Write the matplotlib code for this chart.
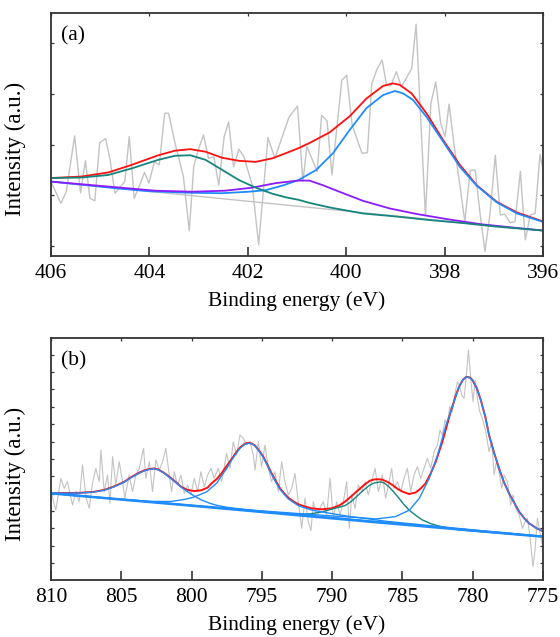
import matplotlib
matplotlib.use('Agg')
import matplotlib.pyplot as plt

plt.rcParams['font.family'] = ['Liberation Serif', 'DejaVu Serif']

# ---- panel (a): N 1s region ----
a_raw_e = [406.0, 405.80, 405.69, 405.52, 405.40, 405.30, 405.21, 405.11, 405.01, 404.89,
           404.80, 404.70, 404.50, 404.41, 404.31, 404.21, 404.10, 404.01, 403.90, 403.80,
           403.69, 403.61, 403.48, 403.31, 403.19, 403.10, 403.01, 402.90, 402.80, 402.69,
           402.59, 402.48, 402.39, 402.29, 402.18, 402.08, 401.91, 401.78, 401.59, 401.45,
           401.30, 401.16, 400.99, 400.88, 400.80, 400.59, 400.50, 400.39, 400.29, 400.09,
           399.99, 399.88, 399.68, 399.57, 399.48, 399.37, 399.27, 399.18, 399.10, 398.98,
           398.88, 398.67, 398.58, 398.39, 398.28, 398.18, 398.08, 397.99, 397.91, 397.80,
           397.69, 397.59, 397.48, 397.38, 397.28, 397.18, 397.08, 396.97, 396.87, 396.78,
           396.67, 396.57, 396.46, 396.36, 396.26, 396.16, 396.06, 395.96]
a_raw_i = [1.27, 0.84, 1.07, 2.17, 1.05, 1.68, 0.94, 0.89, 2.04, 2.12,
           1.70, 1.04, 1.27, 2.16, 0.94, 1.17, 1.45, 1.24, 1.66, 1.60,
           2.62, 2.62, 2.03, 1.37, 0.30, 1.56, 1.89, 2.19, 1.73, 1.76,
           1.20, 2.16, 2.45, 1.56, 1.91, 1.76, 1.20, 0.02, 2.14, 1.73,
           2.16, 2.55, 2.76, 1.27, 1.96, 1.47, 2.58, 2.47, 1.40, 3.27,
           3.37, 2.39, 1.83, 1.84, 3.21, 3.50, 3.67, 3.18, 3.16, 3.44,
           3.14, 3.50, 4.38, 0.60, 2.81, 3.24, 2.42, 2.16, 2.80, 1.93,
           1.20, 0.48, 1.49, 1.50, 0.64, -0.11, 0.61, 1.79, 0.61, 0.63,
           0.46, 0.48, 1.47, 0.12, 0.61, 0.64, 1.81, 1.30]

a_bg_e = [406.0, 396.0]
a_bg_i = [1.27, 0.30]

a_sum_e = [406.0, 405.38, 404.84, 404.36, 403.82, 403.48, 403.17, 402.86, 402.52, 402.18,
           401.84, 401.50, 401.23, 400.97, 400.75, 400.34, 399.93, 399.59, 399.25, 399.05,
           398.91, 398.67, 398.37, 398.03, 397.69, 397.35, 396.94, 396.53, 395.96]
a_sum_i = [1.34, 1.37, 1.45, 1.60, 1.79, 1.88, 1.91, 1.86, 1.74, 1.68,
           1.66, 1.73, 1.83, 1.93, 2.03, 2.24, 2.56, 2.91, 3.16, 3.21,
           3.18, 3.01, 2.62, 2.09, 1.60, 1.20, 0.87, 0.66, 0.47]

a_p1_e = [406.0, 404.70, 404.02, 403.20, 402.52, 401.98, 401.64, 401.30, 400.97, 400.61,
          400.27, 399.93, 399.59, 399.25, 399.01, 398.84, 398.64, 398.37, 398.03, 397.69,
          397.35, 396.94, 396.53, 395.96]
a_p1_i = [1.27, 1.14, 1.08, 1.05, 1.04, 1.07, 1.10, 1.19, 1.30, 1.50,
          1.83, 2.29, 2.72, 2.98, 3.06, 3.01, 2.88, 2.55, 2.06, 1.56,
          1.19, 0.86, 0.64, 0.46]

a_p2_e = [406.0, 404.70, 403.88, 403.14, 402.46, 401.91, 401.43, 400.97, 400.75, 400.48,
          400.14, 399.66, 399.12, 398.57, 397.96, 397.28, 396.60, 395.96]
a_p2_i = [1.27, 1.16, 1.09, 1.07, 1.09, 1.15, 1.24, 1.29, 1.29, 1.20,
          1.07, 0.89, 0.74, 0.63, 0.53, 0.43, 0.36, 0.30]

a_p3_e = [406.0, 405.38, 404.84, 404.36, 403.82, 403.48, 403.17, 402.86, 402.52, 402.18,
          401.84, 401.50, 401.23, 400.97, 400.75, 400.34, 399.66, 398.98, 398.30, 397.62,
          396.94, 395.96]
a_p3_i = [1.34, 1.35, 1.40, 1.53, 1.70, 1.78, 1.79, 1.70, 1.50, 1.30,
          1.15, 1.03, 0.96, 0.91, 0.85, 0.76, 0.64, 0.58, 0.51, 0.45,
          0.38, 0.30]

# ---- panel (b): Co 2p region ----
b_raw_e = [810.0, 809.66, 809.30, 809.06, 808.83, 808.47, 808.23, 808.00, 807.76, 807.52,
           807.28, 807.05, 806.81, 806.57, 806.45, 806.22, 805.98, 805.81, 805.62, 805.39,
           805.15, 804.91, 804.75, 804.44, 804.20, 803.96, 803.72, 803.42, 803.25, 803.01,
           802.78, 802.54, 802.30, 802.06, 801.83, 801.59, 801.42, 801.23, 801.00, 800.76,
           800.52, 800.28, 800.05, 799.81, 799.57, 799.34, 799.10, 798.86, 798.62, 798.39,
           798.10, 797.86, 797.51, 797.27, 797.03, 796.80, 796.56, 796.32, 796.09, 795.85,
           795.61, 795.49, 795.25, 795.02, 794.78, 794.54, 794.31, 794.07, 793.83, 793.59,
           793.36, 793.12, 792.88, 792.65, 792.41, 792.17, 791.93, 791.70, 791.51, 791.34,
           791.10, 790.87, 790.63, 790.39, 790.15, 789.92, 789.68, 789.44, 789.20, 788.97,
           788.78, 788.61, 788.37, 788.14, 787.90, 787.66, 787.43, 787.19, 786.95, 786.71,
           786.43, 786.19, 785.95, 785.77, 785.60, 785.36, 785.12, 784.89, 784.65, 784.41,
           784.18, 783.94, 783.70, 783.46, 783.23, 782.99, 782.75, 782.51, 782.33, 782.16,
           781.97, 781.80, 781.64, 781.45, 781.26, 781.09, 780.97, 780.78, 780.62, 780.45,
           780.31, 780.14, 779.98, 779.83, 779.67, 779.50, 779.31, 779.07, 778.84, 778.65,
           778.48, 778.32, 778.13, 777.94, 777.77, 777.53, 777.30, 777.13, 776.94, 776.70,
           776.46, 776.28, 776.11, 775.94, 775.80, 775.71, 775.56, 775.40, 775.23, 775.04]
b_raw_i = [4.12, 3.06, 4.88, 4.31, 4.69, 3.35, 4.12, 3.54, 5.65, 3.83,
           3.16, 4.60, 5.46, 4.69, 6.51, 4.12, 5.07, 3.45, 6.13, 4.50,
           5.84, 4.69, 3.74, 5.07, 4.12, 5.07, 5.46, 6.61, 4.88, 5.84,
           4.12, 5.94, 5.36, 5.84, 6.61, 5.07, 4.12, 5.26, 4.50, 5.07,
           4.02, 4.50, 3.93, 4.88, 4.12, 5.26, 4.40, 5.07, 5.46, 4.88,
           5.46, 4.69, 6.32, 5.46, 6.99, 6.22, 7.37, 7.18, 6.80, 6.99,
           6.22, 5.36, 6.99, 5.55, 6.80, 5.46, 4.69, 5.26, 4.12, 5.84,
           4.69, 3.93, 4.31, 5.17, 3.54, 2.01, 3.74, 2.39, 1.87, 3.54,
           2.59, 3.16, 3.54, 2.78, 4.88, 2.59, 3.54, 2.78, 3.54, 4.69,
           2.01, 3.93, 3.16, 4.50, 4.12, 4.69, 3.93, 4.69, 5.46, 4.12,
           5.07, 3.74, 4.69, 5.46, 4.31, 4.69, 4.12, 4.88, 5.46, 4.12,
           5.07, 5.55, 4.88, 5.46, 6.03, 5.46, 6.41, 6.80, 7.66, 7.37,
           8.24, 7.95, 9.00, 8.71, 9.77, 10.44, 10.25, 9.67, 9.48, 10.82,
           12.26, 10.63, 9.29, 10.53, 9.48, 8.71, 8.33, 7.56, 6.41, 6.99,
           5.07, 5.84, 5.26, 4.31, 5.07, 4.69, 3.35, 3.93, 3.16, 2.78,
           2.01, 2.39, 2.59, 1.63, 0.48, -0.19, 0.86, 2.59, 1.82, 1.05]

b_bg_e = [810.0, 798.6, 786.9, 775.0]
b_bg_i = [4.02, 3.21, 2.36, 1.53]

b_sum_e = [810.0, 808.0, 807.0, 806.2, 805.5, 804.8, 804.3, 803.8, 803.4, 803.0,
           802.7, 802.4, 802.0, 801.6, 801.2, 800.75, 800.3, 799.8, 799.3, 798.86,
           798.58, 798.2, 797.87, 797.5, 797.15, 796.8, 796.56, 796.2, 795.96, 795.7,
           795.49, 795.2, 794.9, 794.6, 794.31, 794.0, 793.71, 793.4, 793.12, 792.8,
           792.41, 791.9, 791.46, 790.75, 790.04, 789.5, 789.09, 788.6, 788.14, 787.7,
           787.31, 787.0, 786.71, 786.4, 786.0, 785.72, 785.3, 785.0, 784.53, 784.06,
           783.7, 783.35, 783.0, 782.63, 782.16, 781.57, 781.2, 780.97, 780.7, 780.45,
           780.2, 780.02, 779.7, 779.43, 779.1, 778.84, 778.5, 778.13, 777.8, 777.42,
           777.0, 776.7, 776.3, 775.99, 775.5, 775.04]
b_sum_i = [4.03, 4.05, 4.10, 4.22, 4.42, 4.68, 4.95, 5.18, 5.33, 5.42,
           5.45, 5.40, 5.22, 4.98, 4.72, 4.40, 4.22, 4.15, 4.20, 4.35,
           4.60, 4.85, 5.17, 5.60, 5.99, 6.40, 6.65, 6.88, 6.93, 6.88,
           6.76, 6.48, 6.13, 5.65, 5.17, 4.72, 4.31, 4.00, 3.77, 3.58,
           3.39, 3.25, 3.16, 3.10, 3.16, 3.32, 3.54, 3.88, 4.21, 4.52,
           4.75, 4.82, 4.83, 4.80, 4.65, 4.50, 4.25, 4.12, 3.98, 4.07,
           4.30, 4.60, 5.15, 5.84, 6.99, 8.71, 9.65, 10.15, 10.55, 10.72,
           10.68, 10.53, 10.05, 9.39, 8.40, 7.37, 6.40, 5.46, 4.70, 4.02,
           3.40, 2.97, 2.55, 2.30, 2.03, 1.86]

# satellite near 803 eV
b_p1_e = [810.0, 808.0, 807.0, 806.2, 805.5, 804.8, 804.3, 803.8, 803.4, 803.0,
          802.7, 802.4, 802.0, 801.6, 801.2, 800.75, 800.3, 799.8, 799.3, 798.7,
          798.2, 797.5, 796.5, 795.5, 793.0, 790.0, 785.0, 780.0, 775.0]
b_p1_i = [4.02, 4.04, 4.09, 4.20, 4.40, 4.66, 4.92, 5.15, 5.30, 5.40,
          5.43, 5.38, 5.20, 4.95, 4.69, 4.38, 4.12, 3.86, 3.64, 3.45,
          3.33, 3.22, 3.12, 3.03, 2.85, 2.63, 2.27, 1.90, 1.54]

# Co 2p1/2 near 796 eV
b_p2_e = [810.0, 806.0, 803.0, 801.5, 800.5, 799.9, 799.3, 798.9, 798.6, 798.2,
          797.9, 797.5, 797.15, 796.8, 796.56, 796.2, 795.96, 795.7, 795.49, 795.2,
          794.9, 794.6, 794.31, 794.0, 793.71, 793.4, 793.12, 792.41, 791.46, 790.5,
          789.0, 786.0, 780.0, 775.0]
b_p2_i = [4.02, 3.74, 3.56, 3.55, 3.67, 3.79, 3.98, 4.12, 4.34, 4.62,
          5.00, 5.45, 5.93, 6.35, 6.61, 6.85, 6.90, 6.86, 6.74, 6.45,
          6.09, 5.60, 5.11, 4.65, 4.25, 3.95, 3.70, 3.31, 3.06, 2.92,
          2.72, 2.40, 1.92, 1.55]

# satellite near 786.7 eV
b_p3_e = [810.0, 795.0, 792.4, 791.5, 790.75, 790.0, 789.09, 788.6, 788.14, 787.7,
          787.31, 787.0, 786.71, 786.55, 786.3, 785.96, 785.6, 785.25, 784.9, 784.53,
          784.0, 783.58, 783.0, 782.4, 781.5, 780.97, 775.0]
b_p3_i = [4.02, 2.96, 2.80, 2.85, 2.95, 3.12, 3.31, 3.58, 3.93, 4.25,
          4.50, 4.62, 4.66, 4.68, 4.62, 4.40, 4.08, 3.74, 3.38, 3.06,
          2.72, 2.49, 2.28, 2.14, 2.00, 1.92, 1.53]

# Co 2p3/2 near 780 eV
b_p4_e = [810.0, 800.0, 795.0, 790.0, 788.0, 786.9, 785.5, 784.5, 783.8, 783.1,
          782.5, 781.9, 781.57, 780.97, 780.7, 780.45, 780.2, 780.02, 779.7, 779.43,
          779.1, 778.84, 778.5, 778.13, 777.8, 777.42, 777.0, 776.7, 776.3, 775.99,
          775.5, 775.04]
b_p4_i = [4.03, 3.34, 3.01, 2.72, 2.62, 2.55, 2.68, 3.06, 3.74, 4.88,
          6.22, 7.95, 8.71, 10.15, 10.55, 10.72, 10.65, 10.53, 10.05, 9.39,
          8.40, 7.37, 6.40, 5.46, 4.70, 4.02, 3.40, 2.97, 2.55, 2.30,
          2.03, 1.86]

a_ticks = [406, 404, 402, 400, 398, 396]
b_ticks = [810, 805, 800, 795, 790, 785, 780, 775]

c_raw = '#c3c3c3'
c_red = '#ff1010'
c_blue = '#1e8cff'
c_purple = '#8c1cff'
c_teal = '#16857c'
c_spine = '#333333'


def style_axes(ax, ticks, xlim, ylim, yticks, label):
    ax.set_xlim(*xlim)
    ax.set_ylim(*ylim)
    ax.set_xticks(ticks)
    ax.set_xticklabels([str(t) for t in ticks])
    ax.set_yticks(yticks)
    ax.set_yticklabels([])
    ax.tick_params(axis='x', direction='in', length=6.5, width=1.2, color=c_spine,
                   labelsize=15.5, pad=6, top=False)
    ax.tick_params(axis='y', direction='in', length=2.2, width=0.9, color=c_spine,
                   left=True, right=True)
    top = ax.secondary_xaxis('top')
    top.set_xticks(ticks)
    top.tick_params(direction='in', length=2.2, width=0.9, color=c_spine, labeltop=False)
    top.spines['top'].set_visible(False)
    for s in ax.spines.values():
        s.set_color(c_spine)
        s.set_linewidth(1.3)
    ax.set_xlabel('Binding energy (eV)', fontsize=15.5, labelpad=6)
    ax.set_ylabel('Intensity (a.u.)', fontsize=16.5)
    ax.yaxis.set_label_coords(-0.05, 0.44)
    ax.text(0.02, 0.945, label, transform=ax.transAxes, fontsize=15.5, va='top', ha='left')


fig = plt.figure(figsize=(5.6, 6.37), dpi=100)
ax1 = fig.add_axes([0.0911, 0.5981, 0.8786, 0.3815])
ax2 = fig.add_axes([0.0911, 0.0895, 0.8786, 0.3799])

ax1.plot(a_raw_e, a_raw_i, color=c_raw, lw=1.0)
ax1.plot(a_bg_e, a_bg_i, color=c_raw, lw=1.0)
ax1.plot(a_sum_e, a_sum_i, color=c_red, lw=1.3)
ax1.plot(a_p1_e, a_p1_i, color=c_blue, lw=1.3)
ax1.plot(a_p2_e, a_p2_i, color=c_purple, lw=1.3)
ax1.plot(a_p3_e, a_p3_i, color=c_teal, lw=1.3)
style_axes(ax1, a_ticks, (406, 396), (-0.2, 4.6), [0, 1, 2, 3, 4], '(a)')

ax2.plot(b_raw_e, b_raw_i, color=c_raw, lw=0.8)
ax2.plot(b_sum_e, b_sum_i, color=c_red, lw=1.4)
ax2.plot(b_p3_e, b_p3_i, color=c_teal, lw=1.0)
ax2.plot(b_p1_e, b_p1_i, color=c_blue, lw=1.0)
ax2.plot(b_p2_e, b_p2_i, color=c_blue, lw=1.0)
ax2.plot(b_p4_e, b_p4_i, color=c_blue, lw=1.0)
ax2.plot(b_bg_e, b_bg_i, color=c_blue, lw=1.8)
style_axes(ax2, b_ticks, (810, 775), (-0.96, 12.95), list(range(13)), '(b)')

fig.savefig('out.png', dpi=100)
